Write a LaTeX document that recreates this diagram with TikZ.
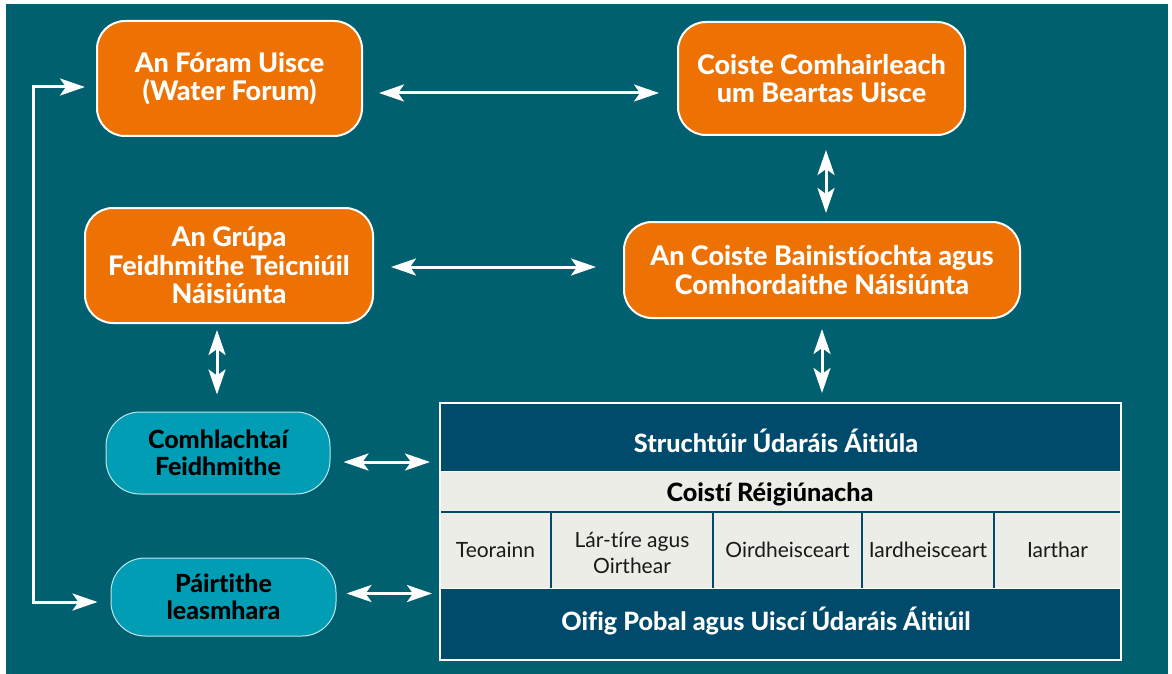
\documentclass[tikz,border=0pt]{standalone}
\usepackage{fontspec}
\setmainfont{Lato}[BoldFont={Lato Heavy}, Ligatures=NoCommon]
\usetikzlibrary{arrows.meta}
\definecolor{bgteal}{HTML}{01606F}
\definecolor{orng}{HTML}{EE7203}
\definecolor{cyanbox}{HTML}{009DB4}
\definecolor{navy}{HTML}{004A6B}
\definecolor{pale}{HTML}{EDEDE8}
\tikzset{
  obox/.style={draw=white, line width=2pt, fill=orng, rounded corners=28pt, text=white,
    font=\bfseries\fontsize{27}{28.5}\selectfont, align=center, inner sep=0pt},
  cbox/.style={draw=white!75!cyanbox, line width=1pt, fill=cyanbox, rounded corners=34pt, text=black,
    font=\bfseries\fontsize{25}{27}\selectfont, align=center, inner sep=0pt},
  tip/.tip={Stealth[length=25pt,width=17pt,inset=6pt]},
  dbl/.style={draw=white, line width=3pt, tip-tip},
  tblock/.style={anchor=north west, inner sep=0pt, outer sep=0pt, draw=none},
  hdtext/.style={anchor=base, text=white, font=\bfseries\fontsize{25.2}{27}\selectfont},
  rowtext/.style={anchor=base, text=black, font=\bfseries\fontsize{25.2}{27}\selectfont},
  celltext/.style={text=black!90, font=\fontsize{21}{26}\selectfont, align=center, inner sep=0pt},
  divider/.style={draw=navy, line width=1.5pt},
}
\begin{document}
\begin{tikzpicture}[x=1pt, y=-1pt]
\useasboundingbox (0,0) rectangle (1172,674);
\fill[bgteal] (6,4) rectangle (1168,674);

% orange boxes
\node[obox, minimum width=265pt, minimum height=115pt] (foram) at (229.5,78.5) {An Fóram Uisce\\(Water Forum)};
\node[obox, minimum width=287pt, minimum height=113pt] (comh) at (821.5,78.5) {Coiste Comhairleach\\um Beartas Uisce};
\node[obox, minimum width=288pt, minimum height=115pt] (grupa) at (229,265.5) {An Grúpa\\Feidhmithe Teicniúil\\Náisiúnta};
\node[obox, minimum width=396pt, minimum height=96pt] (bain) at (822,270) {An Coiste Bainistíochta agus\\Comhordaithe Náisiúnta};

% cyan boxes
\node[cbox, minimum width=224pt, minimum height=82pt] (comhl) at (218,453) {Comhlachtaí\\Feidhmithe};
\node[cbox, minimum width=225pt, minimum height=78pt] (pairt) at (223.5,597) {Páirtithe\\leasmhara};

% table
\node[tblock, fill=navy, minimum width=681pt, minimum height=68pt] (struct) at (440,403) {};
\node[tblock, fill=pale, minimum width=681pt, minimum height=41pt] (coisti) at (440,471) {};
\node[tblock, fill=pale, minimum width=111pt, minimum height=76pt] (c1) at (440,512) {};
\node[tblock, fill=pale, minimum width=162pt, minimum height=76pt] (c2) at (551,512) {};
\node[tblock, fill=pale, minimum width=149pt, minimum height=76pt] (c3) at (713,512) {};
\node[tblock, fill=pale, minimum width=132pt, minimum height=76pt] (c4) at (862,512) {};
\node[tblock, fill=pale, minimum width=127pt, minimum height=76pt] (c5) at (994,512) {};
\node[tblock, fill=navy, minimum width=681pt, minimum height=72pt] (oifig) at (440,588) {};
\draw[divider] (c1.north west) -- (c5.north east);
\foreach \c in {c1,c2,c3,c4} \draw[divider] (\c.north east) -- (\c.south east);
\draw[white, line width=1pt] (coisti.north west) -- (coisti.north east);
\draw[white, line width=1pt] (oifig.north west) -- (oifig.north east);
\node[tblock, draw=white, line width=1.5pt, minimum width=681pt, minimum height=257pt] (tbl) at (440,403) {};

\node[hdtext] (structlbl) at (776,452) {Struchtúir Údaráis Áitiúla};
\node[rowtext] (coistilbl) at (770,501) {Coistí Réigiúnacha};
\node[hdtext] (oifiglbl) at (766,630) {Oifig Pobal agus Uiscí Údaráis Áitiúil};
\node[celltext] (t1) at (495.5,550) {Teorainn};
\node[celltext] (t2) at (632,553) {Lár-tíre agus\\Oirthear};
\node[celltext] (t3) at (787.5,550) {Oirdheisceart};
\node[celltext] (t4) at (928,550) {Iardheisceart};
\node[celltext] (t5) at (1057.5,550) {Iarthar};

% connectors
\draw[dbl, shorten <=16pt, shorten >=18pt] ([yshift=-14.5pt]foram.east) -- ([yshift=-14.5pt]comh.west);
\draw[dbl, shorten <=14pt, shorten >=8pt] ([xshift=4.5pt]comh.south) -- ([xshift=4pt]bain.north);
\draw[dbl, shorten <=10pt, shorten >=10pt] (bain.south) -- (bain.south |- tbl.north);
\draw[dbl, shorten <=17pt, shorten >=27pt] ([yshift=-1.5pt]grupa.east) -- ([yshift=3pt]bain.west);
\draw[dbl, shorten <=6pt, shorten >=17pt] ([xshift=-12pt]grupa.south) -- ([xshift=-1pt]comhl.north);
\coordinate (ca) at ([yshift=-9pt]comhl.east);
\draw[dbl, shorten <=13pt, shorten >=10pt] (ca) -- (ca -| tbl.west);
\coordinate (pa) at ([yshift=3.5pt]pairt.east);
\draw[dbl, shorten <=10pt, shorten >=8pt] (pa) -- (pa -| tbl.west);
\coordinate (fl) at ([yshift=-8.5pt]foram.west);
\coordinate (pl) at ([yshift=-5pt]pairt.west);
\draw[dbl, shorten <=11pt, shorten >=13pt] (fl) -- ++(-63,0) |- (pl);
\end{tikzpicture}
\end{document}
